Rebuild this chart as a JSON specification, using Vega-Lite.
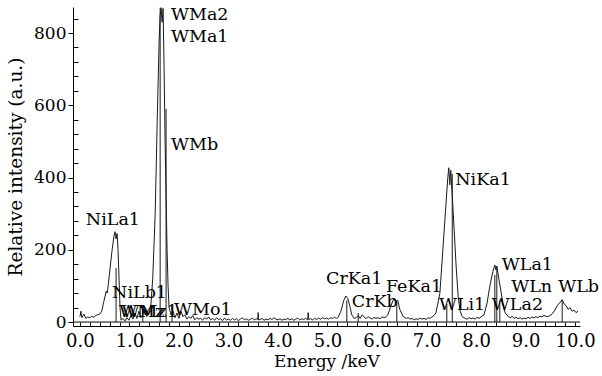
{
  "$schema": "https://vega.github.io/schema/vega-lite/v6.json",
  "width": 507,
  "height": 319,
  "autosize": "none",
  "padding": {"left": 73, "top": 7, "right": 22, "bottom": 50},
  "background": "white",
  "config": {
    "view": {"stroke": null},
    "font": "DejaVu Serif",
    "axis": {"labelFont": "DejaVu Serif", "titleFont": "DejaVu Serif", "labelColor": "#000", "titleColor": "#000", "domainColor": "#000", "tickColor": "#000", "grid": false, "titleFontWeight": 400}
  },
  "encoding": {
    "x": {"field": "e", "type": "quantitative", "title": "Energy /keV",
      "scale": {"domain": [-0.14, 10.1], "nice": false, "zero": false},
      "axis": {"values": [0,0.2,0.4,0.6,0.8,1,1.2,1.4,1.6,1.8,2,2.2,2.4,2.6,2.8,3,3.2,3.4,3.6,3.8,4,4.2,4.4,4.6,4.8,5,5.2,5.4,5.6,5.8,6,6.2,6.4,6.6,6.8,7,7.2,7.4,7.6,7.8,8,8.2,8.4,8.6,8.8,9,9.2,9.4,9.6,9.8,10],
        "labelExpr": "abs(datum.value - round(datum.value)) < 0.01 ? format(datum.value, '.1f') : ''",
        "labelOverlap": false, "labelFlush": false, "labelBound": false,
        "tickSize": -4, "labelPadding": 10, "labelFontSize": 18, "titleFontSize": 17, "titleFontWeight": 400, "titlePadding": 3, "domainWidth": 1.2}},
    "y": {"field": "v", "type": "quantitative", "title": "Relative intensity (a.u.)",
      "scale": {"domain": [-11, 872], "nice": false, "zero": false},
      "axis": {"values": [0,40,80,120,160,200,240,280,320,360,400,440,480,520,560,600,640,680,720,760,800,840],
        "labelExpr": "datum.value % 200 === 0 ? datum.label : ''",
        "labelOverlap": false, "labelFlush": false, "labelBound": false,
        "tickSize": {"condition": {"test": "datum.value % 200 === 0", "value": 5}, "value": -5},
        "labelPadding": 2, "labelFontSize": 17, "titleFontSize": 18.5, "titleFontWeight": 400, "titlePadding": 8}}
  },
  "layer": [
    {
      "data": {"values": [
        {"e":0.00,"v":15},{"e":0.02,"v":30},{"e":0.04,"v":12},{"e":0.08,"v":22},{"e":0.12,"v":10},{"e":0.16,"v":14},{"e":0.20,"v":12},{"e":0.24,"v":16},{"e":0.28,"v":13},{"e":0.32,"v":18},{"e":0.36,"v":20},{"e":0.40,"v":22},{"e":0.44,"v":30},{"e":0.48,"v":55},{"e":0.53,"v":85},{"e":0.55,"v":80},{"e":0.57,"v":100},{"e":0.61,"v":150},{"e":0.65,"v":200},{"e":0.69,"v":240},{"e":0.71,"v":250},{"e":0.73,"v":230},{"e":0.75,"v":245},{"e":0.77,"v":200},{"e":0.79,"v":120},{"e":0.81,"v":40},{"e":0.83,"v":5},{"e":0.87,"v":10},{"e":0.91,"v":3},{"e":0.95,"v":12},{"e":0.99,"v":5},{"e":1.03,"v":18},{"e":1.07,"v":8},{"e":1.11,"v":25},{"e":1.15,"v":10},{"e":1.19,"v":30},{"e":1.23,"v":12},{"e":1.27,"v":20},{"e":1.31,"v":35},{"e":1.35,"v":15},{"e":1.39,"v":25},{"e":1.43,"v":40},{"e":1.47,"v":120},{"e":1.52,"v":300},{"e":1.56,"v":550},{"e":1.60,"v":780},{"e":1.62,"v":850},{"e":1.64,"v":870},{"e":1.66,"v":830},{"e":1.68,"v":868},{"e":1.70,"v":700},{"e":1.72,"v":500},{"e":1.74,"v":350},{"e":1.76,"v":200},{"e":1.78,"v":100},{"e":1.80,"v":40},{"e":1.84,"v":20},{"e":1.88,"v":30},{"e":1.92,"v":12},{"e":1.96,"v":25},{"e":2.00,"v":10},{"e":2.04,"v":30},{"e":2.08,"v":15},{"e":2.12,"v":20},{"e":2.16,"v":8},{"e":2.20,"v":15},{"e":2.24,"v":10},{"e":2.28,"v":18},{"e":2.32,"v":6},{"e":2.36,"v":12},{"e":2.40,"v":8},{"e":2.44,"v":10},{"e":2.48,"v":5},{"e":2.52,"v":12},
        {"e":2.56,"v":8},{"e":2.60,"v":14},{"e":2.64,"v":6},{"e":2.68,"v":10},{"e":2.72,"v":5},{"e":2.76,"v":12},{"e":2.80,"v":7},{"e":2.84,"v":9},{"e":2.88,"v":4},{"e":2.92,"v":11},{"e":2.96,"v":6},{"e":3.00,"v":8},{"e":3.04,"v":5},{"e":3.08,"v":10},{"e":3.12,"v":6},{"e":3.16,"v":9},{"e":3.20,"v":4},{"e":3.24,"v":8},{"e":3.28,"v":12},{"e":3.32,"v":6},{"e":3.36,"v":9},{"e":3.40,"v":5},{"e":3.44,"v":7},{"e":3.48,"v":11},{"e":3.52,"v":6},{"e":3.56,"v":9},{"e":3.59,"v":7},{"e":3.60,"v":26},{"e":3.61,"v":6},{"e":3.64,"v":7},{"e":3.68,"v":10},{"e":3.72,"v":5},{"e":3.76,"v":8},{"e":3.80,"v":6},{"e":3.84,"v":10},{"e":3.88,"v":7},{"e":3.92,"v":12},{"e":3.96,"v":8},{"e":4.00,"v":6},{"e":4.04,"v":9},{"e":4.08,"v":5},{"e":4.12,"v":8},{"e":4.16,"v":7},{"e":4.20,"v":10},{"e":4.24,"v":6},{"e":4.28,"v":9},{"e":4.32,"v":5},{"e":4.36,"v":8},{"e":4.40,"v":11},{"e":4.44,"v":6},{"e":4.48,"v":9},{"e":4.52,"v":7},{"e":4.56,"v":10},{"e":4.60,"v":6},{"e":4.61,"v":26},{"e":4.62,"v":7},{"e":4.66,"v":9},{"e":4.70,"v":6},{"e":4.74,"v":10},{"e":4.78,"v":7},{"e":4.82,"v":11},{"e":4.86,"v":8},{"e":4.90,"v":12},{"e":4.94,"v":9},{"e":4.98,"v":11},{"e":5.02,"v":8},{"e":5.06,"v":12},{"e":5.10,"v":10},{"e":5.14,"v":13},{"e":5.18,"v":10},
        {"e":5.21,"v":12},{"e":5.27,"v":30},{"e":5.33,"v":60},{"e":5.37,"v":72},{"e":5.41,"v":65},{"e":5.45,"v":45},{"e":5.49,"v":20},{"e":5.54,"v":10},
        {"e":5.58,"v":12},{"e":5.62,"v":18},{"e":5.66,"v":10},{"e":5.70,"v":20},{"e":5.74,"v":14},{"e":5.78,"v":9},{"e":5.82,"v":15},{"e":5.86,"v":11},{"e":5.90,"v":8},{"e":5.94,"v":13},{"e":5.98,"v":10},{"e":6.02,"v":12},{"e":6.06,"v":9},{"e":6.10,"v":14},{"e":6.16,"v":12},
        {"e":6.22,"v":20},{"e":6.28,"v":45},{"e":6.34,"v":65},{"e":6.38,"v":55},{"e":6.42,"v":60},{"e":6.46,"v":35},{"e":6.53,"v":15},{"e":6.59,"v":10},
        {"e":6.63,"v":12},{"e":6.67,"v":8},{"e":6.71,"v":10},{"e":6.75,"v":6},{"e":6.79,"v":9},{"e":6.83,"v":7},{"e":6.87,"v":11},{"e":6.91,"v":8},{"e":6.95,"v":10},{"e":6.99,"v":7},{"e":7.03,"v":12},{"e":7.07,"v":10},{"e":7.11,"v":14},{"e":7.15,"v":18},
        {"e":7.19,"v":25},{"e":7.27,"v":80},{"e":7.33,"v":200},{"e":7.39,"v":320},{"e":7.43,"v":400},{"e":7.45,"v":427},{"e":7.47,"v":380},{"e":7.49,"v":420},{"e":7.52,"v":350},{"e":7.56,"v":250},{"e":7.60,"v":150},{"e":7.64,"v":70},{"e":7.68,"v":30},{"e":7.72,"v":15},{"e":7.78,"v":10},
        {"e":7.82,"v":8},{"e":7.86,"v":12},{"e":7.90,"v":9},{"e":7.94,"v":11},{"e":7.98,"v":8},{"e":8.02,"v":13},{"e":8.06,"v":10},{"e":8.10,"v":14},
        {"e":8.16,"v":20},{"e":8.22,"v":50},{"e":8.28,"v":100},{"e":8.34,"v":140},{"e":8.38,"v":158},{"e":8.40,"v":145},{"e":8.42,"v":155},{"e":8.46,"v":120},{"e":8.51,"v":80},{"e":8.55,"v":45},{"e":8.59,"v":25},{"e":8.65,"v":15},
        {"e":8.69,"v":12},{"e":8.73,"v":16},{"e":8.77,"v":10},{"e":8.81,"v":13},{"e":8.85,"v":9},{"e":8.89,"v":12},{"e":8.93,"v":8},{"e":8.97,"v":11},{"e":9.01,"v":9},{"e":9.05,"v":13},{"e":9.09,"v":10},{"e":9.13,"v":14},{"e":9.17,"v":11},{"e":9.21,"v":15},{"e":9.25,"v":12},{"e":9.29,"v":16},{"e":9.33,"v":14},{"e":9.37,"v":18},{"e":9.41,"v":16},
        {"e":9.45,"v":15},{"e":9.52,"v":20},{"e":9.58,"v":30},{"e":9.64,"v":45},{"e":9.70,"v":55},{"e":9.74,"v":62},{"e":9.78,"v":50},{"e":9.82,"v":45},{"e":9.86,"v":35},{"e":9.90,"v":40},{"e":9.94,"v":30},{"e":9.98,"v":33},{"e":10.02,"v":26},{"e":10.06,"v":30}
      ]},
      "mark": {"type": "line", "color": "#1a1a1a", "strokeWidth": 1, "clip": true}
    },
    {
      "data": {"values": [
        {"e":0.73,"v":150},{"e":1.27,"v":45},{"e":1.62,"v":870},{"e":1.74,"v":590},{"e":1.86,"v":45},{"e":5.39,"v":60},{"e":5.62,"v":25},{"e":6.40,"v":55},{"e":7.41,"v":50},{"e":7.52,"v":410},{"e":8.38,"v":130},{"e":8.42,"v":150},{"e":8.48,"v":60},{"e":9.74,"v":60}
      ]},
      "mark": {"type": "rule", "color": "#1a1a1a", "strokeWidth": 1},
      "encoding": {"y2": {"datum": 0}}
    },
    {
      "data": {"values": [{"e": -0.14, "e2": 10.1, "v": 0}]},
      "mark": {"type": "rule", "color": "#000", "strokeWidth": 1},
      "encoding": {"x2": {"field": "e2"}}
    },
    {
      "data": {"values": [
        {"label":"NiLa1","e":0.12,"v":282},
        {"label":"NiLb1","e":0.65,"v":80},
        {"label":"WMz","e":0.79,"v":28},
        {"label":"WMz1","e":0.84,"v":28},
        {"label":"WMo1","e":1.90,"v":33},
        {"label":"WMa2","e":1.84,"v":850},
        {"label":"WMa1","e":1.84,"v":789},
        {"label":"WMb","e":1.84,"v":490},
        {"label":"CrKa1","e":4.97,"v":118},
        {"label":"CrKb","e":5.49,"v":56},
        {"label":"FeKa1","e":6.18,"v":96},
        {"label":"NiKa1","e":7.58,"v":393},
        {"label":"WLi1","e":7.25,"v":47},
        {"label":"WLa1","e":8.52,"v":158},
        {"label":"WLn","e":8.71,"v":97},
        {"label":"WLa2","e":8.32,"v":47},
        {"label":"WLb","e":9.66,"v":97}
      ]},
      "mark": {"type": "text", "align": "left", "baseline": "middle", "font": "DejaVu Serif", "fontSize": 17.5, "color": "#000"},
      "encoding": {"text": {"field": "label"}}
    }
  ]
}
